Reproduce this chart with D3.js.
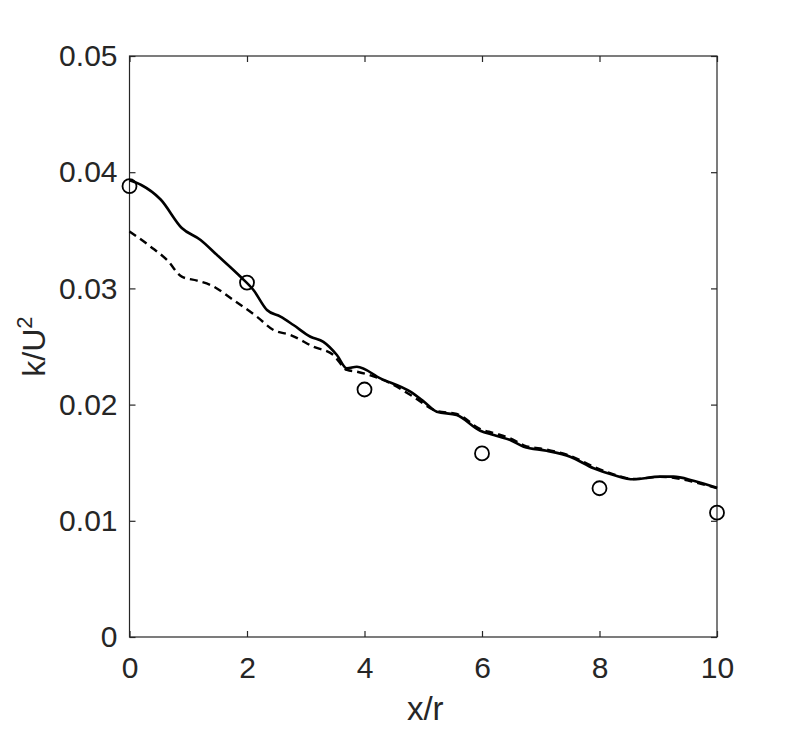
<!DOCTYPE html>
<html>
<head>
<meta charset="utf-8">
<script src="https://cdn.jsdelivr.net/npm/d3@7"></script>
<style>
  body { margin: 0; background: #fff; }
  svg text { font-family: "Liberation Sans", Arial, sans-serif; fill: #262626; }
</style>
</head>
<body>
<div id="chart"></div>
<script>
'use strict'

// solid line (x/r, k/U^2)
const solidX = [0, 0.2, 0.53, 0.89, 1.21, 1.49, 1.89, 2.11, 2.34, 2.57, 2.79, 3.08, 3.3, 3.53, 3.70, 3.87, 4.27, 4.78, 5.0, 5.23, 5.57, 5.97, 6.20, 6.48, 6.71, 7.10, 7.50, 7.90, 8.24, 8.58, 9.03, 9.26, 9.60, 10]
const solidY = [0.0393, 0.0389, 0.03765, 0.0352, 0.03417, 0.03287, 0.0310, 0.02986, 0.02814, 0.02757, 0.02685, 0.02584, 0.0254, 0.02427, 0.02312, 0.02326, 0.02226, 0.02111, 0.0203, 0.01939, 0.01910, 0.01775, 0.01738, 0.01695, 0.01638, 0.01603, 0.01552, 0.01452, 0.01394, 0.01357, 0.01380, 0.01380, 0.01345, 0.01285]

// dashed line
const dashX = [0, 0.36, 0.64, 0.89, 1.15, 1.38, 1.77, 2.17, 2.45, 2.74, 3.13, 3.47, 3.70, 3.87, 4.44, 4.83, 5.23, 5.57, 5.97, 6.20, 6.48, 6.71, 7.10, 7.50, 7.90, 8.24, 8.58, 9.03, 9.26, 9.60, 10]
const dashY = [0.0349, 0.03359, 0.03244, 0.03101, 0.03067, 0.03029, 0.0290, 0.02756, 0.02642, 0.02599, 0.02498, 0.02427, 0.02298, 0.02283, 0.02183, 0.02068, 0.01945, 0.01920, 0.01790, 0.01755, 0.01710, 0.01650, 0.01612, 0.01560, 0.01465, 0.01400, 0.01360, 0.01378, 0.01370, 0.01335, 0.01280]

// measured points (circles)
const expX = [0, 2, 4, 6, 8, 10]
const expY = [0.0388, 0.0305, 0.0213, 0.0158, 0.0128, 0.0107]

const xTicks = [0, 2, 4, 6, 8, 10]
const yTicks = [0, 0.01, 0.02, 0.03, 0.04, 0.05]

const svgWidth = 793, svgHeight = 733
const margin = {left: 129.5, right: 76, top: 56, bottom: 96}

const svg = d3.select('#chart').append('svg')
    .attr('width', svgWidth)
    .attr('height', svgHeight)

const x = d3.scaleLinear().domain([0, 10]).range([margin.left, svgWidth - margin.right])
const y = d3.scaleLinear().domain([0, 0.05]).range([svgHeight - margin.bottom, margin.top])

const tickLen = 6

// box
svg.append('rect')
    .attr('x', x(0)).attr('y', y(0.05))
    .attr('width', x(10) - x(0)).attr('height', y(0) - y(0.05))
    .attr('fill', 'none').attr('stroke', '#262626').attr('stroke-width', 1.2)

// axes (ticks inside, on all sides)
const fmtY = d => d === 0 ? '0' : d3.format('.2f')(d)

const styleAxis = g => {
    g.select('.domain').remove()
    g.selectAll('line').attr('stroke', '#262626').attr('stroke-width', 1.2)
    g.selectAll('text').attr('font-size', 30)
}

svg.append('g')
    .attr('transform', `translate(0,${y(0)})`)
    .call(d3.axisBottom(x).tickValues(xTicks).tickSize(-tickLen).tickPadding(20).tickFormat(d3.format('d')))
    .call(styleAxis)

svg.append('g')
    .attr('transform', `translate(0,${y(0.05)})`)
    .call(d3.axisTop(x).tickValues(xTicks).tickSize(-tickLen).tickFormat(''))
    .call(styleAxis)

svg.append('g')
    .attr('transform', `translate(${x(0)},0)`)
    .call(d3.axisLeft(y).tickValues(yTicks).tickSize(-tickLen).tickPadding(12).tickFormat(fmtY))
    .call(styleAxis)

svg.append('g')
    .attr('transform', `translate(${x(10)},0)`)
    .call(d3.axisRight(y).tickValues(yTicks).tickSize(-tickLen).tickFormat(''))
    .call(styleAxis)

// lines
const line = d3.line()
    .x(d => x(d[0]))
    .y(d => y(d[1]))
    .curve(d3.curveMonotoneX)

svg.append('path')
    .datum(dashX.map((d, i) => [d, dashY[i]]))
    .attr('d', line)
    .attr('fill', 'none')
    .attr('stroke', '#000')
    .attr('stroke-width', 2.4)
    .attr('stroke-dasharray', '8,5')

svg.append('path')
    .datum(solidX.map((d, i) => [d, solidY[i]]))
    .attr('d', line)
    .attr('fill', 'none')
    .attr('stroke', '#000')
    .attr('stroke-width', 2.6)

svg.append('g')
  .selectAll('circle')
    .data(expX.map((d, i) => [d, expY[i]]))
    .join('circle')
    .attr('cx', d => x(d[0]))
    .attr('cy', d => y(d[1]))
    .attr('r', 7)
    .attr('fill', 'none')
    .attr('stroke', '#000')
    .attr('stroke-width', 1.8)

// axis labels
svg.append('text')
    .attr('x', (x(0) + x(10)) / 2 + 2)
    .attr('y', 720)
    .attr('text-anchor', 'middle')
    .attr('font-size', 33)
    .text('x/r')

const yl = svg.append('text')
    .attr('transform', `translate(45,${(y(0) + y(0.05)) / 2}) rotate(-90)`)
    .attr('text-anchor', 'middle')
    .attr('font-size', 32)
yl.append('tspan').text('k/U')
yl.append('tspan').attr('dy', -13).attr('font-size', 22).text('2')
</script>
</body>
</html>
